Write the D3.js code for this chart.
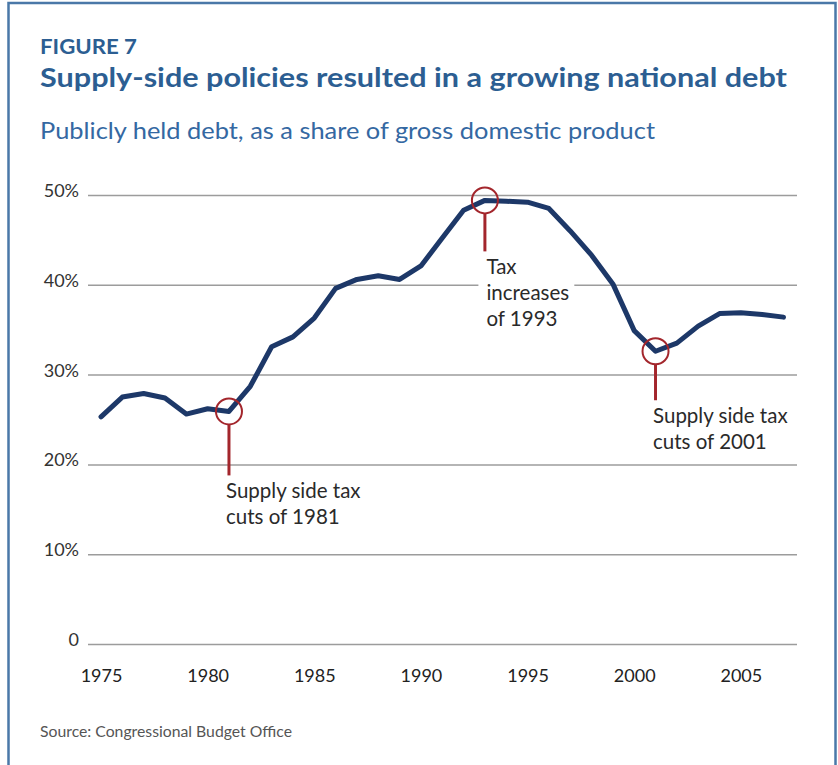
<!DOCTYPE html>
<html>
<head>
<meta charset="utf-8">
<script src="https://cdn.jsdelivr.net/npm/d3@7"></script>
<style>
  body { margin: 0; background: #fff; }
  svg { display: block; font-family: Lato, 'Open Sans', sans-serif; }
</style>
</head>
<body>
<svg class="debt-chart" width="838" height="765"></svg>
<script>
'use strict';

// Publicly held debt, % of GDP
const years = [1975, 1976, 1977, 1978, 1979, 1980, 1981, 1982, 1983, 1984,
  1985, 1986, 1987, 1988, 1989, 1990, 1991, 1992, 1993, 1994, 1995, 1996,
  1997, 1998, 1999, 2000, 2001, 2002, 2003, 2004, 2005, 2006, 2007];
const debtShare = [25.3, 27.5, 27.9, 27.4, 25.6, 26.2, 25.9, 28.7, 33.1, 34.2,
  36.3, 39.6, 40.6, 41.0, 40.6, 42.1, 45.2, 48.3, 49.4, 49.3, 49.2, 48.5,
  46.0, 43.3, 40.1, 34.9, 32.6, 33.5, 35.4, 36.8, 36.9, 36.7, 36.4];

const yTicks = [0, 10, 20, 30, 40, 50];
const xTicks = [1975, 1980, 1985, 1990, 1995, 2000, 2005];

const noteYears = [1981, 1993, 2001];
const noteLines = [
  ['Supply side tax', 'cuts of 1981'],
  ['Tax', 'increases', 'of 1993'],
  ['Supply side tax', 'cuts of 2001']
];

const svg = d3.select('svg.debt-chart');

const x = d3.scaleLinear().domain([1975, 2007]).range([101, 783.5]),
  y = d3.scaleLinear().domain([0, 50]).range([644, 195]);

const data = years.map((yr, i) => ({ year: yr, value: debtShare[i] }));

// frame
svg.append('rect')
  .attr('x', 8.5).attr('y', 3)
  .attr('width', 827).attr('height', 800)
  .attr('fill', 'none')
  .attr('stroke', '#4a78a8')
  .attr('stroke-width', 2.5);

// headings
svg.append('text')
  .attr('x', 40).attr('y', 53.5)
  .attr('fill', '#2c5e92')
  .attr('font-size', 20).attr('font-weight', 700)
  .attr('textLength', 97).attr('lengthAdjust', 'spacingAndGlyphs')
  .text('FIGURE 7');

svg.append('text')
  .attr('x', 40).attr('y', 86.5)
  .attr('fill', '#2c5e92')
  .attr('font-size', 27.5).attr('font-weight', 700)
  .attr('textLength', 747).attr('lengthAdjust', 'spacingAndGlyphs')
  .text('Supply-side policies resulted in a growing national debt');

svg.append('text')
  .attr('x', 40).attr('y', 138.5)
  .attr('fill', '#3468a2')
  .attr('font-size', 23)
  .attr('textLength', 615).attr('lengthAdjust', 'spacingAndGlyphs')
  .text('Publicly held debt, as a share of gross domestic product');

svg.append('text')
  .attr('x', 40).attr('y', 737)
  .attr('fill', '#555')
  .attr('font-size', 14.5)
  .attr('textLength', 252).attr('lengthAdjust', 'spacingAndGlyphs')
  .text('Source: Congressional Budget Office');

// y axis with gridlines
const yAxis = svg.append('g')
  .attr('class', 'axis axis--y')
  .attr('transform', 'translate(88,0)')
  .call(d3.axisLeft(y)
    .tickValues(yTicks)
    .tickSize(-709)
    .tickPadding(9)
    .tickFormat((d) => d === 0 ? '0' : d + '%'));

yAxis.select('.domain').remove();
yAxis.selectAll('line').attr('stroke', '#9c9c9c').attr('stroke-width', 1.5);
yAxis.selectAll('text')
  .attr('dy', '0.08em')
  .attr('fill', '#333')
  .attr('font-size', 18)
  .attr('font-family', 'Lato, sans-serif');

// x axis (labels only)
const xAxis = svg.append('g')
  .attr('class', 'axis axis--x')
  .attr('transform', 'translate(0,644)')
  .call(d3.axisBottom(x)
    .tickValues(xTicks)
    .tickSize(0)
    .tickPadding(25)
    .tickFormat(d3.format('d')));

xAxis.select('.domain').remove();
xAxis.selectAll('text')
  .attr('fill', '#222')
  .attr('font-size', 18)
  .attr('font-family', 'Lato, sans-serif');

// annotation layout
const stemLen = { 1981: 64, 1993: 51, 2001: 49 },
  textDx = { 1981: -3, 1993: 1.5, 2001: -2.5 },
  lineGap = 26;

const notes = noteYears.map((yr, i) => ({
  year: yr,
  value: debtShare[years.indexOf(yr)],
  lines: noteLines[i]
}));

const noteG = svg.selectAll('.note')
  .data(notes)
  .enter()
  .append('g')
  .attr('class', 'note');

// white backing so gridlines break behind the labels
const bgLayer = noteG.append('rect').attr('fill', '#fff');

const noteText = noteG.append('text')
  .attr('fill', '#2a2a2a')
  .attr('font-size', 20.5);

noteText.selectAll('tspan')
  .data((d) => d.lines.map((t) => ({ t: t, d: d })))
  .enter()
  .append('tspan')
  .attr('x', (s) => x(s.d.year) + textDx[s.d.year])
  .attr('y', (s, i) => y(s.d.value) + stemLen[s.d.year] + 23 + i * lineGap)
  .text((s) => s.t);

bgLayer.each(function () {
  const bb = this.parentNode.querySelector('text').getBBox();
  d3.select(this)
    .attr('x', bb.x - 8).attr('y', bb.y + 3)
    .attr('width', bb.width + 13).attr('height', bb.height - 6);
});

// the debt line
svg.append('path')
  .datum(data)
  .attr('fill', 'none')
  .attr('stroke', '#1d3868')
  .attr('stroke-width', 5)
  .attr('stroke-linejoin', 'round')
  .attr('stroke-linecap', 'round')
  .attr('d', d3.line()
    .x((d) => x(d.year))
    .y((d) => y(d.value)));

// markers + stems
noteG.append('line')
  .attr('x1', (d) => x(d.year)).attr('x2', (d) => x(d.year))
  .attr('y1', (d) => y(d.value) + 13)
  .attr('y2', (d) => y(d.value) + stemLen[d.year])
  .attr('stroke', '#a3262c')
  .attr('stroke-width', 3);

svg.selectAll('.marker')
  .data(notes)
  .enter()
  .append('circle')
  .attr('class', 'marker')
  .attr('cx', (d) => x(d.year))
  .attr('cy', (d) => y(d.value))
  .attr('r', 13)
  .attr('fill', 'none')
  .attr('stroke', '#a3262c')
  .attr('stroke-width', 2);
</script>
</body>
</html>
